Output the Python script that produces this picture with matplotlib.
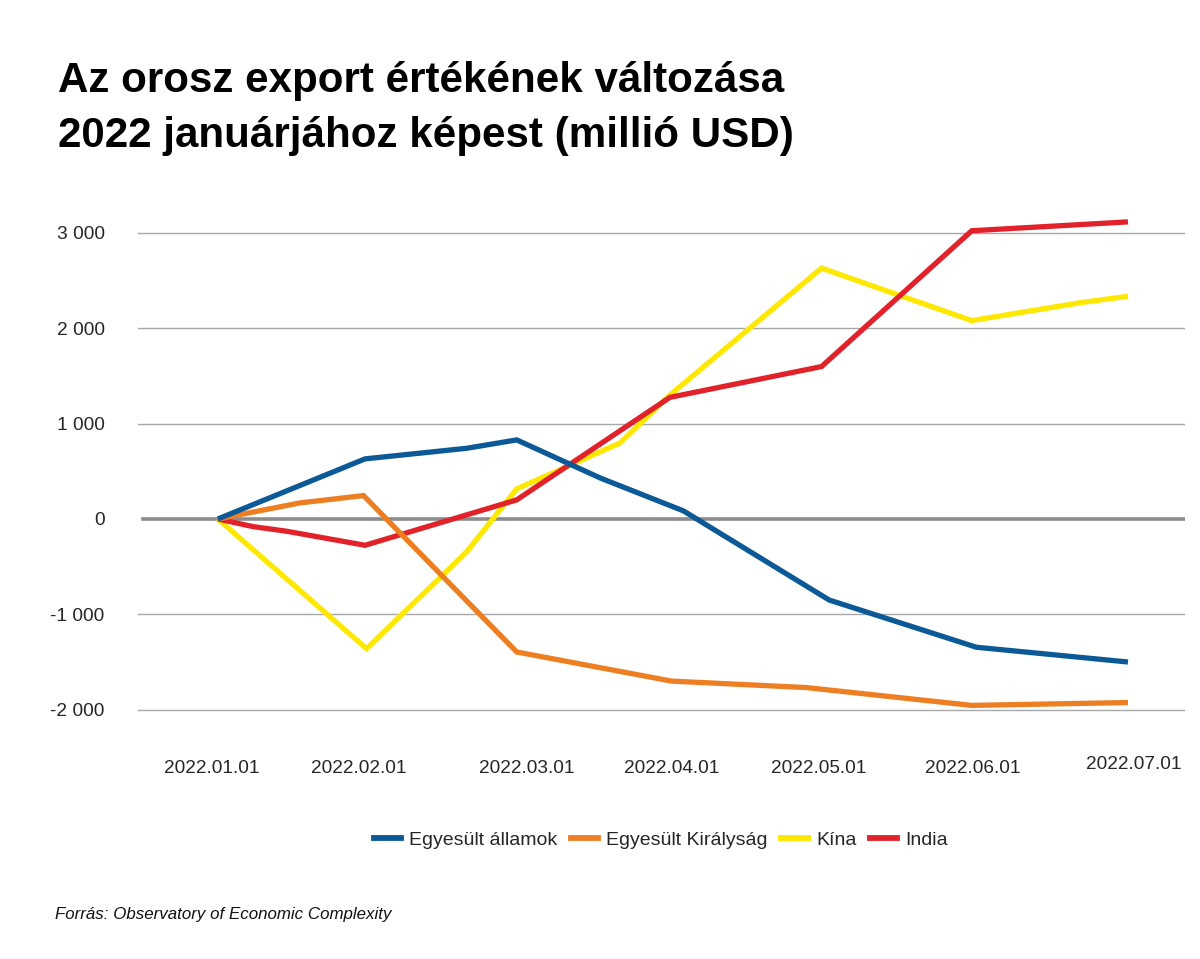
import matplotlib
matplotlib.use("Agg")
import matplotlib.pyplot as plt
from matplotlib.lines import Line2D
from matplotlib.transforms import ScaledTranslation

# ---- data (x = months since 2022.01.01) ----
tick_labels = ["2022.01.01", "2022.02.01", "2022.03.01", "2022.04.01",
               "2022.05.01", "2022.06.01", "2022.07.01"]
tick_pos = [0, 1, 2, 3, 4, 5, 6]

us_x = [0, 0.97, 1.64, 1.97, 2.52, 3.07, 4.03, 5.0, 6.0]
us_y = [0, 630, 741, 829, 430, 84, -850, -1345, -1500]

uk_x = [0, 0.54, 0.96, 1.97, 2.99, 3.88, 4.97, 6.0]
uk_y = [0, 168, 245, -1395, -1700, -1768, -1955, -1925]

cn_x = [0, 0.98, 1.64, 1.97, 2.65, 2.98, 3.98, 4.97, 5.70, 6.0]
cn_y = [0, -1360, -345, 315, 796, 1300, 2630, 2080, 2271, 2335]

in_x = [0, 0.23, 0.45, 0.97, 1.97, 2.98, 3.98, 4.97, 6.0]
in_y = [0, -80, -128, -276, 200, 1275, 1598, 3022, 3115]

names = ["Egyesült államok", "Egyesült Királyság", "Kína", "India"]
colors = ["#0B5A97", "#EE7E22", "#FFE800", "#E1222A"]

yticks = [-2000, -1000, 0, 1000, 2000, 3000]
ytick_labels = ["-2 000", "-1 000", "0", "1 000", "2 000", "3 000"]

plt.rcParams['font.family'] = ['Liberation Sans', 'DejaVu Sans']

W, H = 1200, 959
fig = plt.figure(figsize=(W / 100, H / 100), dpi=100)
fig.patch.set_facecolor("white")

ax_l, ax_r, ax_t, ax_b = 138, 1185, 209, 724
ax = fig.add_axes([ax_l / W, 1 - ax_b / H, (ax_r - ax_l) / W, (ax_b - ax_t) / H])
ax.set_xlim(-0.527, 6.376)
ax.set_ylim(-2150, 3250)

for s in ax.spines.values():
    s.set_visible(False)

for yv in yticks:
    if yv != 0:
        ax.axhline(yv, color="#a8a8a8", lw=1.0, zorder=1)
ax.axhline(0, xmin=5 / (ax_r - ax_l), xmax=1.0, color="#8c8c8c", lw=2.6, zorder=2)

lw = 3.8
series = [(us_x, us_y), (uk_x, uk_y), (cn_x, cn_y), (in_x, in_y)]
zorders = [6, 5, 3, 4]
for (xs, ys), c, z, n in zip(series, colors, zorders, names):
    ax.plot(xs, ys, color=c, lw=lw, zorder=z, solid_joinstyle="miter",
            solid_capstyle="butt", label=n)

ax.set_yticks(yticks)
ax.set_yticklabels(ytick_labels, fontsize=13.8, color="#262626")
ax.set_xticks(tick_pos)
ax.set_xticklabels(tick_labels, fontsize=13.7, color="#262626")
ax.tick_params(axis="y", length=0, pad=24)
ax.tick_params(axis="x", length=0, pad=26)

# hand-placed label nudges as in the original layout (pixels)
dx_px = [-6, -11, 5, -1, -6, -4, 6]
dy_px = [0, 0, 0, 0, 0, 0, 4]
for lab, dx, dy in zip(ax.get_xticklabels(), dx_px, dy_px):
    lab.set_transform(lab.get_transform() + ScaledTranslation(dx / 100, dy / 100, fig.dpi_scale_trans))

handles = [Line2D([0], [0], color=c, lw=4.2) for c in colors]
fig.legend(handles, names, loc="center", bbox_to_anchor=(661 / W, 1 - 840 / H),
           ncol=4, frameon=False, fontsize=14.0, handlelength=1.4,
           handletextpad=0.4, columnspacing=0.7, labelcolor="#262626")

fig.text(58 / W, 1 - 92 / H, "Az orosz export értékének változása",
         fontsize=30.3, fontweight="bold", va="baseline", ha="left")
fig.text(58 / W, 1 - 147 / H, "2022 januárjához képest (millió USD)",
         fontsize=30.3, fontweight="bold", va="baseline", ha="left")

fig.text(55 / W, 1 - 914 / H, "Forrás: Observatory of Economic Complexity",
         fontsize=12.2, style="italic", va="center", ha="left", color="#111111")

fig.savefig("out.png", dpi=100, facecolor="white")
